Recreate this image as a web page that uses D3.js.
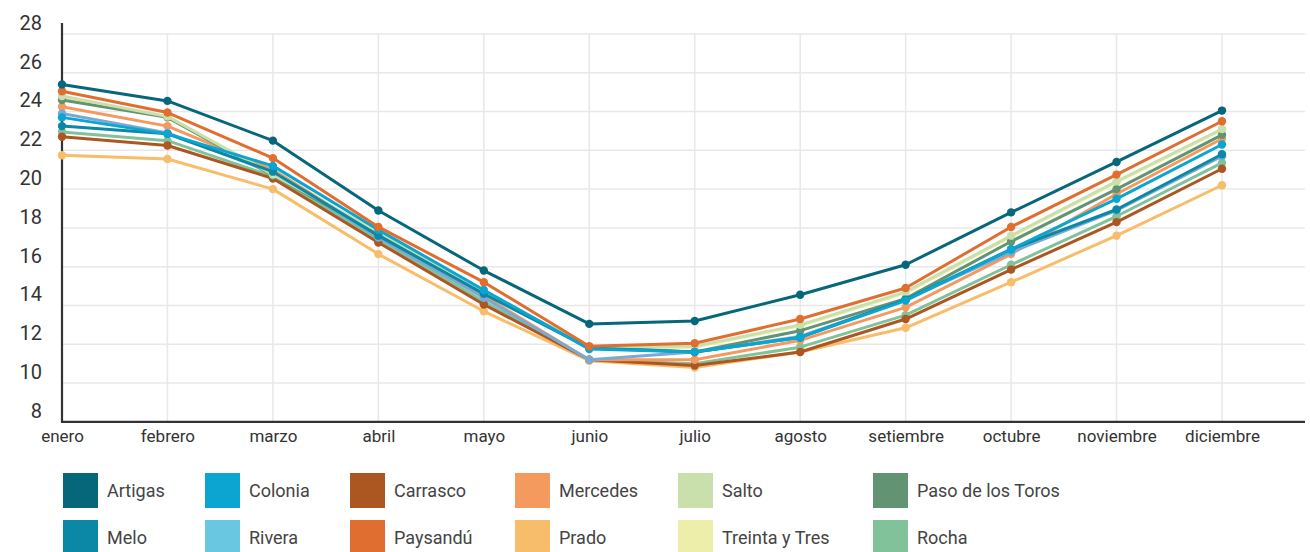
<!DOCTYPE html>
<html>
<head>
<meta charset="utf-8">
<script src="https://cdn.jsdelivr.net/npm/d3@7"></script>
<style>
  html, body { margin: 0; padding: 0; background: #fff; }
  svg { display: block; font-family: Roboto, "Noto Sans", sans-serif; }
</style>
</head>
<body>
<svg id="chart" width="1310" height="552"></svg>
<script>
const months = ["enero","febrero","marzo","abril","mayo","junio","julio","agosto","setiembre","octubre","noviembre","diciembre"];
const yTicks = [8,10,12,14,16,18,20,22,24,26,28];

const seriesNames = ["Artigas","Melo","Colonia","Rivera","Carrasco","Paysandú","Mercedes","Prado","Salto","Treinta y Tres","Paso de los Toros","Rocha"];
const seriesColors = ["#07677a","#0a88a6","#0ba5d1","#6ac7e2","#ac5622","#e06e30","#f59a5f","#f8bd6a","#c9e0ac","#eeeeab","#629474","#81c29a"];
const lineColors   = ["#07677a","#0a88a6","#0ba5d1","#7aaad3","#ac5622","#e06e30","#f59a5f","#f8bd6a","#c9e0ac","#eeeeab","#629474","#81c29a"];

const artigas   = [25.4, 24.55, 22.5, 18.9, 15.8, 13.05, 13.2, 14.55, 16.1, 18.8, 21.4, 24.05];
const melo      = [23.25, 22.85, 20.9, 17.6, 14.6, 11.8, 11.6, 12.35, 14.3, 16.9, 18.95, 21.8];
const colonia   = [23.7, 22.85, 21.2, 17.9, 14.8, 11.75, 11.6, 12.35, 14.25, 16.9, 19.5, 22.3];
const rivera    = [23.9, 22.9, 20.85, 17.5, 14.4, 11.2, 11.6, 12.4, 14.3, 16.75, 18.9, 21.7];
const carrasco  = [22.7, 22.25, 20.55, 17.25, 14.05, 11.2, 10.9, 11.6, 13.3, 15.85, 18.3, 21.05];
const paysandu  = [25.05, 23.95, 21.6, 18.05, 15.2, 11.9, 12.05, 13.3, 14.9, 18.05, 20.75, 23.5];
const mercedes  = [24.25, 23.25, 21.0, 17.6, 14.5, 11.2, 11.2, 12.2, 13.9, 16.65, 19.75, 22.6];
const prado     = [21.75, 21.55, 20.0, 16.65, 13.7, 11.15, 10.8, 11.6, 12.85, 15.2, 17.6, 20.2];
const salto     = [24.8, 23.75, 20.75, 17.8, 14.7, 11.85, 11.9, 13.0, 14.7, 17.6, 20.4, 23.1];
const treintaYTres = [24.75, 23.7, 20.7, 17.75, 14.65, 11.8, 11.85, 12.95, 14.65, 17.55, 20.35, 23.05];
const pasoDeLosToros = [24.6, 23.7, 20.7, 17.7, 14.65, 11.85, 11.6, 12.7, 14.35, 17.3, 20.0, 22.8];
const rocha     = [22.95, 22.5, 20.65, 17.4, 14.2, 11.2, 11.0, 11.85, 13.5, 16.1, 18.6, 21.35];

const seriesValues = [artigas, melo, colonia, rivera, carrasco, paysandu, mercedes, prado, salto, treintaYTres, pasoDeLosToros, rocha];

// drawing order (bottom first)
const drawOrder = ["Treinta y Tres","Prado","Rocha","Carrasco","Mercedes","Rivera","Paso de los Toros","Salto","Melo","Colonia","Paysandú","Artigas"];

const series = seriesNames.map((name, i) => ({
  name, color: seriesColors[i], lineColor: lineColors[i],
  values: seriesValues[i].map((v, j) => ({ month: months[j], value: v }))
}));

const svg = d3.select("#chart");
const mLeft = 62, mRight = 1305, mTop = 34, mBottom = 421.8;

const x = d3.scalePoint().domain(months).range([62, 1222]);
const y = d3.scaleLinear().domain([8, 28]).range([mBottom, mTop]);

// grid
const grid = svg.append("g");
grid.selectAll("line.h").data(yTicks.filter(t => t > 8)).join("line")
  .attr("class", "h")
  .attr("x1", mLeft).attr("x2", mRight)
  .attr("y1", d => y(d)).attr("y2", d => y(d))
  .attr("stroke", "#e8e8e8").attr("stroke-width", 1.5);
grid.selectAll("line.v").data(months.slice(1)).join("line")
  .attr("class", "v")
  .attr("x1", d => x(d)).attr("x2", d => x(d))
  .attr("y1", y(28)).attr("y2", mBottom)
  .attr("stroke", "#e8e8e8").attr("stroke-width", 1.5);

// y axis
const yAxis = svg.append("g").attr("transform", `translate(${mLeft},0)`)
  .call(d3.axisLeft(y).tickValues(yTicks).tickSize(0).tickPadding(20));
yAxis.select(".domain").remove();
yAxis.selectAll("text")
  .attr("font-size", 20).attr("fill", "#333")
  .attr("font-family", "Roboto, sans-serif")
  .attr("transform", "translate(0,-11)");
svg.append("line").attr("x1", mLeft).attr("x2", mLeft).attr("y1", 23).attr("y2", mBottom + 1)
  .attr("stroke", "#333").attr("stroke-width", 2.2);

// x axis
const xAxis = svg.append("g").attr("transform", `translate(0,${mBottom})`)
  .call(d3.axisBottom(x).tickSize(0).tickPadding(8));
xAxis.select(".domain").remove();
xAxis.selectAll("text")
  .attr("font-size", 17).attr("fill", "#333")
  .attr("font-family", "Roboto, sans-serif");
svg.append("line").attr("x1", mLeft - 1).attr("x2", mRight).attr("y1", mBottom).attr("y2", mBottom)
  .attr("stroke", "#333").attr("stroke-width", 2.2);

// lines
const line = d3.line().x(d => x(d.month)).y(d => y(d.value));
const ordered = drawOrder.map(n => series.find(s => s.name === n));
const gs = svg.append("g").selectAll("g").data(ordered).join("g");
gs.append("path")
  .attr("d", d => line(d.values))
  .attr("fill", "none")
  .attr("stroke", d => d.lineColor)
  .attr("stroke-width", 3)
  .attr("stroke-linejoin", "round");
gs.selectAll("circle").data(d => d.values.map(v => ({ ...v, color: d.lineColor }))).join("circle")
  .attr("cx", d => x(d.month)).attr("cy", d => y(d.value))
  .attr("r", 4.2).attr("fill", d => d.color);

// legend
const legendX = [63, 205, 350, 515, 678, 873];
const legendY = [473, 520];
const legend = svg.append("g").selectAll("g").data(series).join("g")
  .attr("transform", (d, i) => `translate(${legendX[Math.floor(i / 2)]},${legendY[i % 2]})`);
legend.append("rect").attr("width", 35).attr("height", 35).attr("fill", d => d.color);
legend.append("text").attr("x", 44).attr("y", 18).attr("dy", "0.35em")
  .attr("font-size", 18).attr("fill", "#444")
  .attr("font-family", "Roboto, sans-serif")
  .text(d => d.name);
</script>
</body>
</html>
